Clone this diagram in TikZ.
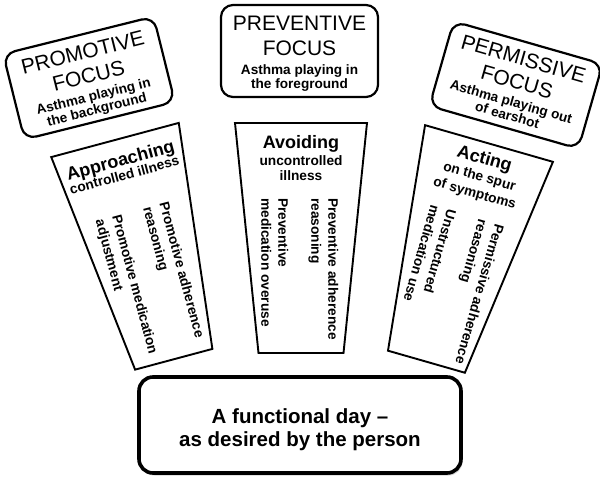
\documentclass[tikz,border=0pt]{standalone}
\usepackage{fontspec}
\setmainfont{Liberation Sans}
\usetikzlibrary{shadows}
\begin{document}
\begin{tikzpicture}[x=1pt,y=-1pt,
  topbox/.style={draw, line width=2.2pt, rounded corners=12pt, minimum width=157pt, minimum height=90pt, inner sep=0pt},
  focus/.style={font=\fontsize{21}{25}\selectfont, anchor=base, inner sep=0pt},
  sub/.style={font=\bfseries\fontsize{13.6}{14.3}\selectfont, anchor=base, inner sep=0pt},
  trap/.style={draw, line width=1.9pt, line join=miter},
  verb/.style={font=\bfseries\fontsize{18}{20}\selectfont, anchor=base, inner sep=0pt},
  obj/.style={font=\bfseries\fontsize{13.7}{17}\selectfont, anchor=base, inner sep=0pt},
  col/.style={font=\bfseries\fontsize{13.7}{17}\selectfont, rotate=-90, align=left, anchor=north west, inner sep=0pt},
  mainbox/.style={draw, line width=3.6pt, rounded corners=14pt, minimum width=322pt, minimum height=96pt, fill=white,
    drop shadow={shadow xshift=1.5pt, shadow yshift=-2.5pt, fill=black!35}},
  daytxt/.style={font=\bfseries\fontsize{20.5}{23}\selectfont, anchor=base, inner sep=0pt}
]
\useasboundingbox (0,0) rectangle (600,480);

% ---- top focus boxes ----
\begin{scope}[shift={(89,78)}, rotate=14, transform shape]
  \node[topbox, minimum width=155pt, minimum height=88pt] (pbox) at (0,0) {};
  \node[focus] (pt1) at (0,-19) {PROMOTIVE};
  \node[focus] (pt2) at (0,5) {FOCUS};
  \node[sub] (pt3) at (0,23) {Asthma playing in};
  \node[sub] (pt4) at (0,37) {the background};
\end{scope}

\begin{scope}[shift={(299.5,51)}]
  \node[topbox, minimum height=92pt] (vbox) at (0,0) {};
  \node[focus] (vt1) at (0,-21) {PREVENTIVE};
  \node[focus] (vt2) at (0,4) {FOCUS};
  \node[sub] (vt3) at (0,23) {Asthma playing in};
  \node[sub] (vt4) at (0,37) {the foreground};
\end{scope}

\begin{scope}[shift={(516,85)}, rotate=-16, transform shape]
  \node[topbox, minimum width=155pt, minimum height=88pt] (sbox) at (0,0) {};
  \node[focus] (st1) at (0,-20) {PERMISSIVE};
  \node[focus] (st2) at (0,4) {FOCUS};
  \node[sub] (st3) at (0,22) {Asthma playing out};
  \node[sub] (st4) at (0,36) {of earshot};
\end{scope}

% ---- trapezoids ----
\begin{scope}[shift={(115,140)}, rotate=15, transform shape]
  \draw[trap] (-66,0) -- (66,0) -- (40,227) -- (-40,227) -- cycle;
  \node[verb] (pv) at (0,27) {Approaching};
  \node[obj] (po) at (0,41) {controlled illness};
  \node[col] (pc1) at (36.5,73) {Promotive adherence\\reasoning};
  \node[col] (pc2) at (-12.5,73) {Promotive medication\\adjustment};
\end{scope}

\begin{scope}[shift={(301,123)}]
  \draw[trap] (-66,0) -- (66,0) -- (42.5,230) -- (-42.5,230) -- cycle;
  \node[verb] (vv) at (0,25.5) {Avoiding};
  \node[obj] (vo1) at (0,42) {uncontrolled};
  \node[obj] (vo2) at (0,57) {illness};
  \node[col] (vc1) at (37.5,75) {Preventive adherence\\reasoning};
  \node[col] (vc2) at (-12.5,75) {Preventive\\medication overuse};
\end{scope}

\begin{scope}[shift={(489,143.5)}, rotate=-16, transform shape]
  \draw[trap] (-66.5,0) -- (66.5,0) -- (40,227) -- (-40,227) -- cycle;
  \node[verb] (sv) at (0,21.5) {Acting};
  \node[obj] (so1) at (0,38.6) {on the spur};
  \node[obj] (so2) at (0,56) {of symptoms};
  \node[col] (sc1) at (38,75) {Permissive adherence\\reasoning};
  \node[col] (sc2) at (-12,74) {Unstructured\\medication use};
\end{scope}

% ---- bottom box ----
\node[mainbox] (day) at (300,425) {};
\node[daytxt] (day1) at (300,423.3) {A functional day –};
\node[daytxt] (day2) at (300,446) {as desired by the person};
\end{tikzpicture}
\end{document}
